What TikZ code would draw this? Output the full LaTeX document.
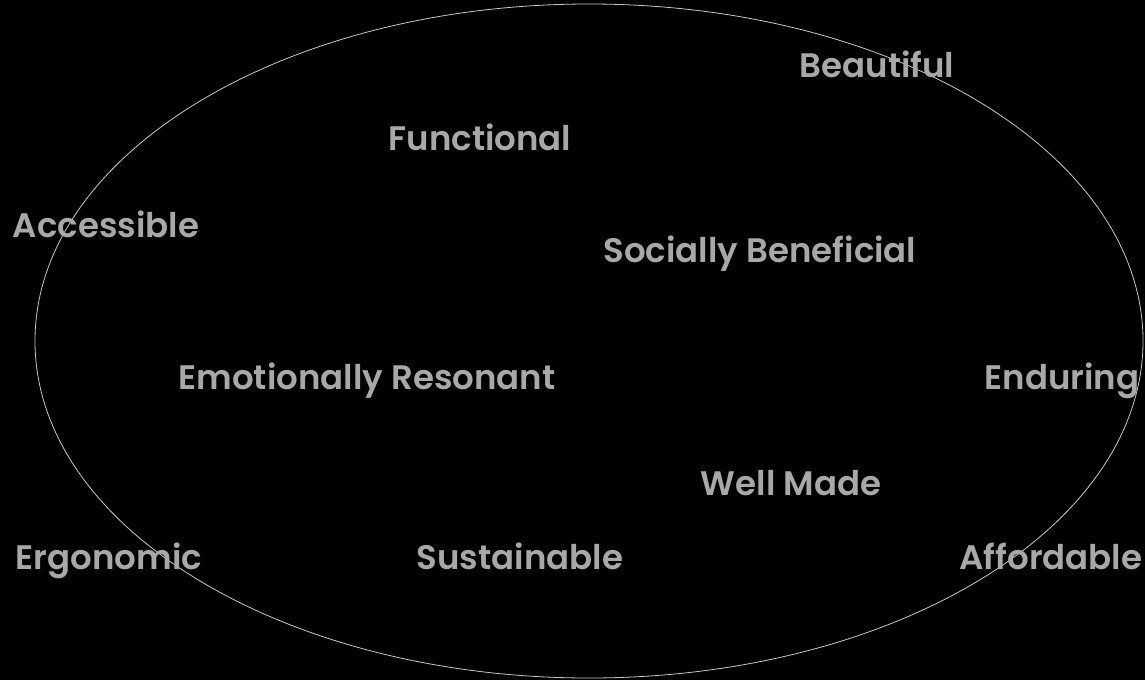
\documentclass[tikz,border=0pt]{standalone}
\usepackage{fontspec}
\setmainfont{Poppins}[BoldFont={* SemiBold}]
\usepackage{tikz}
\usetikzlibrary{positioning}

\definecolor{wordgray}{HTML}{A8A8A8}
\definecolor{ringgray}{HTML}{C8C8C8}

\begin{document}
\begin{tikzpicture}[x=1pt, y=-1pt,
  word/.style={text=wordgray, font=\fontsize{34}{40}\selectfont\bfseries, inner sep=0pt, anchor=base},
  ring/.style={draw=ringgray, line width=0.8pt}]
  \fill[black] (0,0) rectangle (1145,680);
  \useasboundingbox (0,0) rectangle (1145,680);
  \draw[ring] (589,341) ellipse [x radius=554, y radius=337];
  \node[word] (beautiful) at (877,77) {Beautiful};
  \node[word] (functional) at (480,150) {Functional};
  \node[word] (accessible) at (106,237) {Accessible};
  \node[word] (social) at (760,262) {Socially Beneficial};
  \node[word] (emotional) at (367,389) {Emotionally Resonant};
  \node[word] (enduring) at (1062,389) {Enduring};
  \node[word] (wellmade) at (791,495) {Well Made};
  \node[word] (ergonomic) at (109,569) {Ergonomic};
  \node[word] (sustainable) at (520,569) {Sustainable};
  \node[word] (affordable) at (1051,569) {Affordable};
\end{tikzpicture}
\end{document}
